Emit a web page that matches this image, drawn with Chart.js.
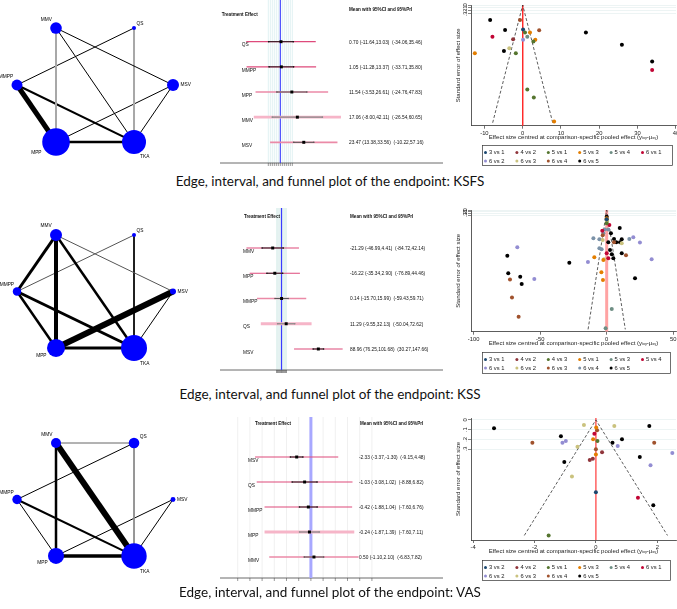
<!DOCTYPE html>
<html>
<head>
<meta charset="utf-8">
<title>Edge, interval, and funnel plots</title>
<script src="https://cdn.jsdelivr.net/npm/chart.js@4.4.1/dist/chart.umd.min.js"></script>
<style>
  body { margin: 0; background: #fff; }
  #page { position: relative; width: 677px; height: 609px; overflow: hidden; background: #fff; }
  #page canvas { position: absolute; }
  .caption { position: absolute; left: 0; width: 660px; text-align: center; font-family: Lato, "Open Sans", sans-serif; font-size: 13.5px; line-height: 13.5px; color: #111; }
</style>
</head>
<body>
<div id="page">
  <canvas id="netKSFS" width="200" height="170" style="left:0px;top:0px"></canvas>
  <canvas id="forestKSFS" width="225" height="170" style="left:220px;top:0px"></canvas>
  <canvas id="funnelKSFS" width="237" height="170" style="left:440px;top:0px"></canvas>
  <div class="caption" style="top:175px">Edge, interval, and funnel plot of the endpoint: KSFS</div>

  <canvas id="netKSS" width="200" height="190" style="left:0px;top:190px"></canvas>
  <canvas id="forestKSS" width="225" height="190" style="left:220px;top:190px"></canvas>
  <canvas id="funnelKSS" width="237" height="190" style="left:440px;top:190px"></canvas>
  <div class="caption" style="top:388px">Edge, interval, and funnel plot of the endpoint: KSS</div>

  <canvas id="netVAS" width="200" height="190" style="left:0px;top:390px"></canvas>
  <canvas id="forestVAS" width="230" height="190" style="left:220px;top:395px"></canvas>
  <canvas id="funnelVAS" width="237" height="195" style="left:440px;top:390px"></canvas>
  <div class="caption" style="top:586px">Edge, interval, and funnel plot of the endpoint: VAS</div>
</div>

<script>
// ---- datos ----
// nodos de la red, colocados en círculo en este orden
const treatments = ['MMV', 'QS', 'MSV', 'TKA', 'MPP', 'MMPP'];

// KSFS
const ksfsNodeWeight = [34, 4, 36, 144, 190, 30];
const ksfsEdges = [['MMV', 'MPP'], ['MMV', 'TKA'], ['MMV', 'MSV'], ['QS', 'MMPP'], ['QS', 'TKA'],
                   ['MMPP', 'MPP'], ['MMPP', 'TKA'], ['MSV', 'MPP'], ['MSV', 'TKA'], ['MPP', 'TKA']];
const ksfsEdgeWeight = [2, 1, 1, 1, 2, 5, 2, 1, 1, 2.5];

const ksfsRows = ['QS', 'MMPP', 'MPP', 'MMV', 'MSV'];
const ksfsMean = [0.70, 1.05, 11.54, 17.06, 23.47];
const ksfsCiLow = [-11.64, -11.28, -3.53, -8.00, 13.38];
const ksfsCiHigh = [13.03, 13.37, 26.61, 42.11, 33.56];
const ksfsPriLow = [-34.06, -33.71, -24.76, -26.54, -10.22];
const ksfsPriHigh = [35.46, 35.80, 47.83, 60.65, 57.16];

const ksfsComparisons = ['3 vs 1', '4 vs 2', '5 vs 1', '5 vs 3', '5 vs 4', '6 vs 1', '6 vs 2', '6 vs 3', '6 vs 4', '6 vs 5'];
const ksfsFunnelEffect = [
  [0.1],
  [-2.5],
  [0.6, 2.8, -1.8, 1.2, 2.9],
  [1.9, 3.3, -12.5, 8.2],
  [1.2],
  [-7.9, 33.8],
  [0.1],
  [-3.5],
  [-0.7, 4.3],
  [-8.5, -4.6, 16.5, 25.9, -4.9, 33.8]
];
const ksfsFunnelSE = [
  [0.83],
  [1.16],
  [0.93, 1.24, 1.64, 2.87, 3.14],
  [0.93, 1.18, 1.64, 3.96],
  [1.08],
  [1.08, 2.21],
  [1.18],
  [1.47],
  [0.51, 0.86],
  [0.51, 0.85, 0.93, 1.35, 1.56, 1.92]
];
const ksfsFunnelTicks = [-10, 0, 10, 20, 30, 40];
const ksfsFunnelLimit = 4.0;

// KSS
const kssNodeWeight = [36, 4, 9, 169, 81, 18];
const kssEdges = [['MMV', 'MMPP'], ['MMV', 'MPP'], ['MMV', 'TKA'], ['MMV', 'MSV'], ['QS', 'MMPP'], ['QS', 'TKA'],
                  ['MMPP', 'MPP'], ['MMPP', 'TKA'], ['MSV', 'MPP'], ['MSV', 'TKA'], ['MPP', 'TKA']];
const kssEdgeWeight = [3, 4, 2.5, 1, 1, 1, 2.5, 3, 6, 1, 3];

const kssRows = ['MMV', 'MPP', 'MMPP', 'QS', 'MSV'];
const kssMean = [-21.29, -16.22, 0.14, 11.29, 88.96];
const kssCiLow = [-46.99, -35.34, -15.70, -9.55, 76.25];
const kssCiHigh = [4.41, 2.90, 15.99, 32.13, 101.68];
const kssPriLow = [-84.72, -76.89, -59.43, -50.04, 30.27];
const kssPriHigh = [42.14, 44.46, 59.71, 72.62, 147.66];

const kssComparisons = ['3 vs 1', '4 vs 2', '4 vs 3', '5 vs 1', '5 vs 3', '5 vs 4', '6 vs 1', '6 vs 2', '6 vs 3', '6 vs 4', '6 vs 5'];
const kssFunnelEffect = [
  [0],
  [],
  [0],
  [0, -9.3, -4, -2.8, -2.5],
  [3.8, -0.8],
  [2, -3.3, 0, 1.2],
  [-67.2, -54.4, -14.1, 20, 25, 33.8],
  [0.3, 11.3, -2, -3],
  [-72.7, -71.2, -66.2, -3, 5.5, 14.5],
  [-10, -1.3, 1.2, -2.5, 17, -5.5, -3.8, -5.5],
  [-74.7, -74, -65, -63.9, -28.1, 9.8, 3.2, 5.5, 11.3, 1.2, 7.2, 10, 11.3, 5, 21.3, 2.5, 3.8, 0]
];
const kssFunnelSE = [
  [0.56],
  [],
  [0.8],
  [0.5, 2.83, 3.73, 4.19, 2.99],
  [5.92, 7.08],
  [0.9, 1.24, 2.59, 2.89],
  [2.23, 4.13, 3.11, 1.63, 1.95, 2.95],
  [0.66, 1.99, 2.95, 1.79],
  [4.15, 5.24, 6.38, 1.51, 1.93, 2.71],
  [1.69, 1.16, 1.16, 1.39, 1.73, 2.29, 2.35, 1.75],
  [2.73, 3.79, 3.99, 4.43, 3.15, 1.08, 1.39, 1.73, 1.75, 1.93, 1.93, 1.93, 2.59, 2.89, 4.09, 2.39, 2.65, 0.4]
];
const kssFunnelTicks = [-100, -50, 0, 50];
const kssFunnelLimit = 7.14;

// VAS
const vasNodeWeight = [25, 28, 6, 161, 64, 22];
const vasEdges = [['MMV', 'QS'], ['MMV', 'MPP'], ['MMV', 'TKA'], ['QS', 'MMPP'], ['QS', 'TKA'],
                  ['MMPP', 'TKA'], ['MMPP', 'MPP'], ['MSV', 'MPP'], ['MSV', 'TKA'], ['MPP', 'TKA']];
const vasEdgeWeight = [1, 2.5, 6, 1, 1, 2, 1, 1, 1, 3.5];

const vasRows = ['MSV', 'QS', 'MMPP', 'MPP', 'MMV'];
const vasMean = [-2.33, -1.03, -0.42, -0.24, 0.50];
const vasCiLow = [-3.37, -3.08, -1.88, -1.87, -1.10];
const vasCiHigh = [-1.30, 1.02, 1.04, 1.39, 2.10];
const vasPriLow = [-9.15, -8.88, -7.60, -7.60, -6.83];
const vasPriHigh = [4.48, 6.82, 6.76, 7.11, 7.82];

const vasComparisons = ['3 vs 2', '4 vs 2', '5 vs 1', '5 vs 3', '5 vs 4', '6 vs 1', '6 vs 2', '6 vs 3', '6 vs 4', '6 vs 5'];
const vasFunnelEffect = [
  [0],
  [0.2, -0.2, -0.1],
  [0.05, -1.54],
  [0.01, -0.09, 0],
  [],
  [-0.05, 1.37],
  [-1.09, -0.98, 0.71, 2.49, 1.78],
  [-0.39, 0.6, -0.6, -0.78],
  [0.04, -2.07, 1.9, 0],
  [-3.32, 1.74, -1.14, 0.85, 0.54, 1.43, -1.03, 1.87]
];
const vasFunnelSE = [
  [0.746],
  [0.333, 0.412, 0.399],
  [0.217, 1.19],
  [0.079, 0.199, 0.357],
  [],
  [0.141, 0.801],
  [0.234, 0.217, 0.268, 0.34, 0.467],
  [0.052, 0.062, 0.275, 0.584],
  [0.106, 0.234, 0.234, 0.302],
  [0.086, 0.062, 0.168, 0.199, 0.234, 0.381, 0.433, 0.88]
];
const vasFunnelTicks = [-4, -2, 0, 2];
const vasFunnelLimit = 1.19;

const forestTicks = [-12, -10, -8, -6, -4, -2, 0, 2, 4, 6, 8, 10, 12];
const forestTicksVas = [-12, -10, -8, -6, -4, -2, 0, 2, 4, 6, 8, 10];
const seTicks = [0, 0.1, 0.2, 0.3];

// ---- estilos ----
const FONT = '"Liberation Sans", Arial, Helvetica, sans-serif';
const palette = ['#1a476f', '#90353b', '#55752f', '#e37e00', '#6e8e84', '#c10534', '#938dd2', '#cac27e', '#a0522d', '#7b92a8'];
const forestTones = {
  dark:  { pri: '#de4a7b', priW: 1.2, ci: '#111', ciW: 0.9 },
  mid:   { pri: '#eb8aa7', priW: 1.7, ci: '#555', ciW: 1 },
  light: { pri: '#f6b5c8', priW: 2.8, ci: '#888', ciW: 1.2 }
};
const labelPlace = {
  MMV:  [-0.7, 0, -1, -3, 'right'],
  QS:   [1, 0.5, -0.6, -3, 'left'],
  MSV:  [1, 1.5, 0, 0, 'left'],
  TKA:  [0, 6, 1, 2.7, 'left'],
  MPP:  [-1.05, 0, 0.8, 0, 'right'],
  MMPP: [-0.7, 0, -1, -2.5, 'right']
};
const baseOptions = {
  responsive: false,
  animation: false,
  devicePixelRatio: 1,
  events: [],
  layout: { padding: 0, autoPadding: false },
  plugins: { legend: { display: false }, tooltip: { enabled: false } }
};

function nodeAngle(i) { return (120 - 60 * i) * Math.PI / 180; }
function groupColor(i, n) { return i === n - 1 ? '#000' : palette[i]; }

// Red de comparaciones
function drawNetwork(id, nodeWeight, edges, edgeWeight, edgeTone, yMin, yMax) {
  const pos = treatments.map((t, i) => ({ x: Math.cos(nodeAngle(i)), y: Math.sin(nodeAngle(i)) }));
  const at = name => pos[treatments.indexOf(name)];
  const radius = nodeWeight.map(w => Math.sqrt(w));
  const datasets = [{
    data: pos, pointRadius: radius, pointHoverRadius: radius,
    pointBackgroundColor: '#0000ff', pointBorderWidth: 0, order: 0, clip: false
  }];
  edges.forEach((e, k) => datasets.push({
    data: [at(e[0]), at(e[1])], showLine: true, borderColor: edgeTone[k] || '#000',
    borderWidth: edgeWeight[k], pointRadius: 0, order: 1, clip: false
  }));

  const labels = {
    id: 'nodeLabels',
    afterDatasetsDraw(chart) {
      const ctx = chart.ctx, xs = chart.scales.x, ys = chart.scales.y;
      ctx.save();
      ctx.font = '4.8px ' + FONT;
      ctx.fillStyle = '#000';
      ctx.textBaseline = 'middle';
      treatments.forEach((t, i) => {
        const p = labelPlace[t], r = radius[i];
        ctx.textAlign = p[4];
        ctx.fillText(t, xs.getPixelForValue(pos[i].x) + p[0] * r + p[1], ys.getPixelForValue(pos[i].y) + p[2] * r + p[3]);
      });
      ctx.restore();
    }
  };

  new Chart(document.getElementById(id), {
    type: 'scatter',
    data: { datasets },
    options: {
      ...baseOptions,
      scales: {
        x: { type: 'linear', display: false, min: -1.218, max: 1.346 },
        y: { type: 'linear', display: false, min: yMin, max: yMax }
      }
    },
    plugins: [labels]
  });
}

// Gráfico de intervalos
function drawForest(id, rows, mean, ciLow, ciHigh, priLow, priHigh, rowTone, ticks, look) {
  const datasets = [];
  rows.forEach((r, i) => {
    const t = forestTones[rowTone[i]];
    datasets.push({
      data: [{ x: priLow[i], y: i }, { x: priHigh[i], y: i }], showLine: true,
      borderColor: t.pri, borderWidth: t.priW, pointRadius: 0, order: 3
    });
    datasets.push({
      data: [{ x: ciLow[i], y: i }, { x: ciHigh[i], y: i }], showLine: true,
      borderColor: t.ci, borderWidth: t.ciW, pointRadius: 0.8,
      pointBackgroundColor: t.ci, pointBorderWidth: 0, order: 2
    });
  });
  datasets.push({
    data: rows.map((r, i) => ({ x: mean[i], y: i })), pointStyle: 'rect', pointRadius: 2.1,
    pointBackgroundColor: '#000', pointBorderWidth: 0, order: 0
  });

  const fmt = v => v.toFixed(2);
  const decor = {
    id: 'forestDecor',
    beforeDatasetsDraw(chart) {
      const ctx = chart.ctx, xs = chart.scales.x;
      const line = (x1, y1, x2, y2) => { ctx.beginPath(); ctx.moveTo(x1, y1); ctx.lineTo(x2, y2); ctx.stroke(); };
      ctx.save();
      ctx.lineWidth = 0.6;
      ctx.strokeStyle = look.grid;
      ticks.forEach(v => { const px = xs.getPixelForValue(v); line(px, look.top, px, look.axisY); });
      ctx.strokeStyle = '#555';
      ticks.forEach(v => { const px = xs.getPixelForValue(v); line(px, look.axisY, px, look.axisY + 3); });
      ctx.lineWidth = 0.8;
      ctx.strokeStyle = '#444';
      line(0, look.axisY, look.axisR, look.axisY);
      ctx.strokeStyle = look.ref;
      ctx.lineWidth = look.refW;
      const z = xs.getPixelForValue(0);
      line(z, look.top, z, look.axisY);
      ctx.restore();
    },
    afterDatasetsDraw(chart) {
      const ctx = chart.ctx, ys = chart.scales.y;
      ctx.save();
      ctx.fillStyle = '#111';
      ctx.textBaseline = 'middle';
      ctx.textAlign = 'left';
      ctx.font = 'bold 4.6px ' + FONT;
      ctx.fillText('Treatment Effect', look.teX, look.teY);
      ctx.fillText('Mean with 95%CI and 95%PrI', look.meanX, look.meanY);
      ctx.font = '4.8px ' + FONT;
      rows.forEach((r, i) => {
        const py = ys.getPixelForValue(i);
        ctx.fillText(r, look.labX, py + 3.4);
        ctx.fillText(fmt(mean[i]) + ' (' + fmt(ciLow[i]) + ',' + fmt(ciHigh[i]) + ')  (' +
                     fmt(priLow[i]) + ',' + fmt(priHigh[i]) + ')', look.valX, py + 0.5);
      });
      ctx.restore();
    }
  };

  new Chart(document.getElementById(id), {
    type: 'scatter',
    data: { datasets },
    options: {
      ...baseOptions,
      scales: {
        x: { type: 'linear', display: false, min: look.xMin, max: look.xMax },
        y: { type: 'linear', display: false, reverse: true, min: look.yMin, max: look.yMax }
      }
    },
    plugins: [decor]
  });
}

// Gráfico de embudo
function drawFunnel(id, comparisons, effect, se, limit, xTicks, look) {
  const n = comparisons.length;
  const datasets = [
    { data: [{ x: 0, y: look.yMin }, { x: 0, y: look.yMax }], showLine: true,
      borderColor: look.zero, borderWidth: look.zeroW, pointRadius: 0, order: 2 },
    { data: [{ x: -1.96 * limit, y: limit }, { x: 0, y: 0 }, { x: 1.96 * limit, y: limit }], showLine: true,
      borderColor: '#333', borderWidth: 0.8, borderDash: [3, 2], pointRadius: 0, order: 1 }
  ];
  comparisons.forEach((c, i) => datasets.push({
    label: c, data: effect[i].map((x, j) => ({ x, y: se[i][j] })),
    pointRadius: 2, pointBackgroundColor: groupColor(i, n), pointBorderWidth: 0, order: 0
  }));

  const extras = {
    id: 'funnelExtras',
    afterDraw(chart) {
      const ctx = chart.ctx, ys = chart.scales.y;
      ctx.save();
      ctx.fillStyle = '#222';
      ctx.font = '5.8px ' + FONT;
      ctx.textAlign = 'center';
      ctx.textBaseline = 'middle';
      seTicks.forEach(v => {
        ctx.save();
        ctx.translate(25.5, ys.getPixelForValue(v));
        ctx.rotate(-Math.PI / 2);
        ctx.fillText(v === 0 ? '0' : String(v).replace('0.', '.'), 0, 0);
        ctx.restore();
      });
      // leyenda
      const lg = look.legend;
      ctx.strokeStyle = '#333';
      ctx.lineWidth = 0.7;
      ctx.strokeRect(lg.left + 0.5, lg.top + 0.5, lg.width, lg.height);
      ctx.textAlign = 'left';
      comparisons.forEach((c, i) => {
        const col = i % 6, row = Math.floor(i / 6);
        const x = lg.left + 3.5 + col * 31.4, y = lg.top + 7.5 + row * 8.6;
        ctx.fillStyle = groupColor(i, n);
        ctx.beginPath();
        ctx.arc(x, y, 1.5, 0, Math.PI * 2);
        ctx.fill();
        ctx.fillStyle = '#222';
        ctx.fillText(c, x + 3.5, y);
      });
      ctx.restore();
    }
  };

  new Chart(document.getElementById(id), {
    type: 'scatter',
    data: { datasets },
    options: {
      ...baseOptions,
      layout: { padding: { left: 0, top: look.padTop, right: 1, bottom: look.padBottom }, autoPadding: false },
      scales: {
        x: {
          type: 'linear', min: look.xMin, max: look.xMax,
          afterBuildTicks: s => { s.ticks = xTicks.map(v => ({ value: v })); },
          afterFit: s => { s.height = 18; s.paddingLeft = 0; s.paddingRight = 0; },
          ticks: { font: { family: FONT, size: 5.8 }, color: '#222', padding: 1, maxRotation: 0, autoSkip: false },
          grid: { drawOnChartArea: false, tickLength: 3, color: '#333', lineWidth: 0.7 },
          border: { color: '#333', width: 0.8 },
          title: {
            display: true, color: '#222', font: { family: FONT, size: 6 }, padding: { top: 0, bottom: 3 },
            text: 'Effect size centred at comparison-specific pooled effect (y\u1d62\u2093\u1d67-\u03bc\u2093\u1d67)'
          }
        },
        y: {
          type: 'linear', reverse: true, min: look.yMin, max: look.yMax,
          afterBuildTicks: s => { s.ticks = seTicks.map(v => ({ value: v })); },
          afterFit: s => { s.width = 31; s.paddingTop = 0; s.paddingBottom = 0; },
          ticks: { display: false },
          grid: { color: '#e0ecec', tickColor: '#333', tickLength: 3, lineWidth: 0.6 },
          border: { color: '#333', width: 0.8 },
          title: {
            display: true, color: '#222', font: { family: FONT, size: 6 }, padding: { top: 14.5, bottom: 0 },
            text: 'Standard error of effect size'
          }
        }
      }
    },
    plugins: [extras]
  });
}

document.addEventListener('DOMContentLoaded', function () {
  drawNetwork('netKSFS', ksfsNodeWeight, ksfsEdges, ksfsEdgeWeight, { 0: '#a8a8a8', 4: '#a8a8a8' }, -1.292, 1.292);
  drawNetwork('netKSS', kssNodeWeight, kssEdges, kssEdgeWeight, { 3: '#555', 4: '#555' }, -1.357, 1.557);
  drawNetwork('netVAS', vasNodeWeight, vasEdges, vasEdgeWeight, { 0: '#666', 4: '#888' }, -1.235, 1.679);

  drawForest('forestKSFS', ksfsRows, ksfsMean, ksfsCiLow, ksfsCiHigh, ksfsPriLow, ksfsPriHigh,
    ['dark', 'dark', 'mid', 'light', 'mid'], forestTicks,
    { xMin: -60.3, xMax: 164.7, yMin: -1.658, yMax: 5.101, grid: '#cde8ea', ref: '#3030ff', refW: 1,
      top: 0, axisY: 163, axisR: 223, teX: 1.7, teY: 15, meanX: 129, meanY: 10, labX: 21.7, valX: 129 });
  drawForest('forestKSS', kssRows, kssMean, kssCiLow, kssCiHigh, kssPriLow, kssPriHigh,
    ['dark', 'dark', 'mid', 'light', 'dark'], forestTicks,
    { xMin: -148.6, xMax: 394.9, yMin: -2.297, yMax: 5.228, grid: '#d3ebe8', ref: '#3b3bff', refW: 1.2,
      top: 18, axisY: 180, axisR: 223, teX: 24, teY: 27, meanX: 130, meanY: 27, labX: 23, valX: 130 });
  drawForest('forestVAS', vasRows, vasMean, vasCiLow, vasCiHigh, vasPriLow, vasPriHigh,
    ['dark', 'dark', 'dark', 'light', 'mid'], forestTicksVas,
    { xMin: -14.9, xMax: 22.8, yMin: -2.48, yMax: 5.12, grid: '#e6e6e6', ref: '#a8a8ff', refW: 3,
      top: 22, axisY: 183, axisR: 223, teX: 35, teY: 29, meanX: 140, meanY: 29, labX: 28, valX: 139 });

  drawFunnel('funnelKSFS', ksfsComparisons, ksfsFunnelEffect, ksfsFunnelSE, ksfsFunnelLimit, ksfsFunnelTicks,
    { xMin: -13.5, xMax: 40.03, yMin: 0, yMax: 4.1, padTop: 5, padBottom: 26.3, zero: '#ff2a2a', zeroW: 1,
      legend: { left: 42, top: 145, width: 190, height: 20 } });
  drawFunnel('funnelKSS', kssComparisons, kssFunnelEffect, kssFunnelSE, kssFunnelLimit, kssFunnelTicks,
    { xMin: -102, xMax: 52.1, yMin: 0, yMax: 7.28, padTop: 20, padBottom: 30.3, zero: '#ffa3a3', zeroW: 3,
      legend: { left: 42, top: 162, width: 188, height: 21 } });
  drawFunnel('funnelVAS', vasComparisons, vasFunnelEffect, vasFunnelSE, vasFunnelLimit, vasFunnelTicks,
    { xMin: -4.07, xMax: 2.61, yMin: -0.02, yMax: 1.237, padTop: 28, padBottom: 27, zero: '#ff4a4a', zeroW: 1.3,
      legend: { left: 42, top: 170, width: 188, height: 20 } });
});
</script>
</body>
</html>
